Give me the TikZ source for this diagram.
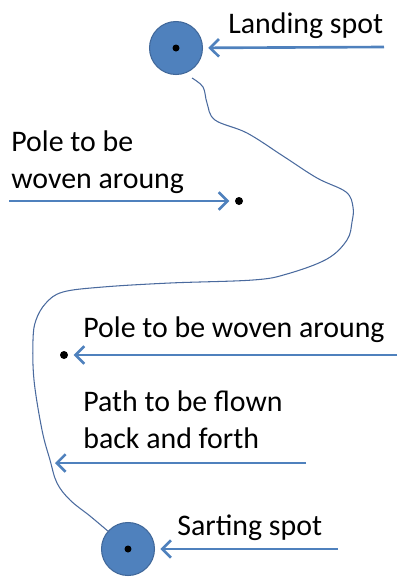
\documentclass[tikz,border=0pt]{standalone}
\usepackage{fontspec}
\setmainfont{Carlito}
\usetikzlibrary{arrows,arrows.meta,positioning}
\definecolor{spotblue}{HTML}{4F81BD}
\definecolor{spotedge}{HTML}{41689A}
\definecolor{pathblue}{HTML}{4A6A9E}

\begin{document}
\begin{tikzpicture}[x=0.02cm,y=-0.02cm,
	spot/.style={circle,fill=spotblue,draw=spotedge,line width=0.6pt,minimum size=1.06cm,inner sep=0pt},
	pole/.style={circle,fill=black,minimum size=0.16cm,inner sep=0pt},
	centre/.style={circle,fill=black,minimum size=0.14cm,inner sep=0pt},
	label/.style={anchor=base west,inner sep=0pt,align=left,font=\fontsize{17}{20.5}\selectfont},
	pointer/.style={draw=spotblue,line width=1.5pt,shorten >=3pt,-{Straight Barb[length=5pt,width=10pt,line width=1.5pt]}}]
	\useasboundingbox (0,0) rectangle (399,579);

	\node[spot] (land) at (176,48) {};
	\node[centre] at (land) {};
	\node[spot] (start) at (128,549) {};
	\node[centre] at (start) {};
	\node[pole] (pa) at (239,201) {};
	\node[pole] (pb) at (64,355) {};
	\coordinate (track) at (55,463);

	% the path between the spots
	\draw[pathblue,line width=0.6pt] plot[smooth,tension=0.6] coordinates {
		(192,78) (203,87) (207,103) (215,120) (247,133) (283,156)
		(317,178) (346,192) (353,207) (352,222) (347,240) (327,259)
		(287,274) (253,280) (170,283) (103,287) (63,292) (46,303)
		(36,320) (33,340) (34,380) (42,430) (50,460) (57,483) (70,500)
		(90,516) (109,532)};

	\node[label] (tland) at (228,33) {Landing spot};
	\node[label] (tpa) at (11,188) {Pole to be\\woven aroung};
	\node[label] (tpb) at (83,337) {Pole to be woven aroung};
	\node[label] (ttrack) at (83,448) {Path to be flown\\back and forth};
	\node[label] (tstart) at (177,535) {Sarting spot};

	\coordinate (fland) at (384,47);
	\coordinate (fpa) at (9,201);
	\coordinate (fpb) at (397,355);
	\coordinate (ftrack) at (306,463);
	\coordinate (fstart) at (338,549);

	\draw[pointer] (fland) -- (land);
	\draw[pointer] (fpa) -- (pa);
	\draw[pointer] (fpb) -- (pb);
	\draw[pointer,shorten >=0pt] (ftrack) -- (track);
	\draw[pointer] (fstart) -- (start);
\end{tikzpicture}
\end{document}
